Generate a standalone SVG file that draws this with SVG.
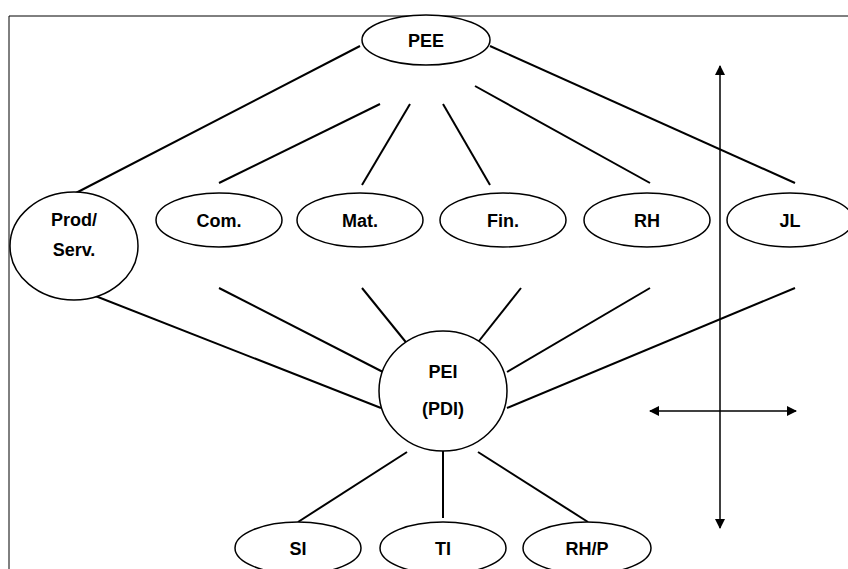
<svg xmlns="http://www.w3.org/2000/svg" width="848" height="569" viewBox="0 0 848 569">
<style>
.n{fill:#fff;stroke:#000;stroke-width:1.5}
.t{font-family:"Liberation Sans",Arial,sans-serif;font-weight:bold;font-size:18px;text-anchor:middle;fill:#000}
.c{stroke:#000;stroke-width:2;fill:none}
.a{stroke:#000;stroke-width:1.5;fill:none;marker-start:url(#ah);marker-end:url(#ah)}
</style>
<defs>
<marker id="ah" viewBox="0 0 10 10" refX="9" refY="5" markerWidth="10" markerHeight="10" markerUnits="userSpaceOnUse" orient="auto-start-reverse">
<path d="M0,0 L10,5 L0,10 z" fill="#000"/>
</marker>
</defs>
<rect width="848" height="569" fill="#fff"/>
<path d="M9,569 V16 H848" stroke="#000" stroke-width="1" fill="none"/>
<g id="connectors">
<line class="c" x1="360" y1="46" x2="72" y2="195"/>
<line class="c" x1="380" y1="104" x2="219" y2="183"/>
<line class="c" x1="410" y1="104" x2="362" y2="185"/>
<line class="c" x1="443" y1="104" x2="490" y2="185"/>
<line class="c" x1="475" y1="86" x2="650" y2="183"/>
<line class="c" x1="490" y1="46" x2="795" y2="183"/>
<line class="c" x1="75" y1="288" x2="381" y2="408"/>
<line class="c" x1="219" y1="288" x2="383" y2="372"/>
<line class="c" x1="362" y1="288" x2="409" y2="346"/>
<line class="c" x1="521" y1="288" x2="475" y2="346"/>
<line class="c" x1="650" y1="288" x2="507" y2="372"/>
<line class="c" x1="795" y1="288" x2="507" y2="408"/>
<line class="c" x1="407" y1="452" x2="298" y2="522"/>
<line class="c" x1="443" y1="428" x2="443" y2="518"/>
<line class="c" x1="478" y1="452" x2="588" y2="522"/>
<line class="a" x1="720" y1="66" x2="720" y2="528"/>
<line class="a" x1="650" y1="411" x2="796" y2="411"/>
</g>
<g id="PEE"><ellipse class="n" cx="426" cy="40" rx="64" ry="25"/><text class="t" x="426" y="47">PEE</text></g>
<g id="ProdServ"><ellipse class="n" cx="74" cy="246" rx="64" ry="54"/><text class="t" x="74" y="226">Prod/</text><text class="t" x="74" y="256">Serv.</text></g>
<g id="Com"><ellipse class="n" cx="219" cy="220" rx="63" ry="27"/><text class="t" x="219" y="227">Com.</text></g>
<g id="Mat"><ellipse class="n" cx="360" cy="220" rx="63" ry="27"/><text class="t" x="360" y="227">Mat.</text></g>
<g id="Fin"><ellipse class="n" cx="503" cy="220" rx="63" ry="27"/><text class="t" x="503" y="227">Fin.</text></g>
<g id="RH"><ellipse class="n" cx="647" cy="220" rx="63" ry="27"/><text class="t" x="647" y="227">RH</text></g>
<g id="JL"><ellipse class="n" cx="790" cy="220" rx="63" ry="27"/><text class="t" x="790" y="227">JL</text></g>
<g id="PEI"><ellipse class="n" cx="443" cy="391" rx="64" ry="60"/><text class="t" x="443" y="378">PEI</text><text class="t" x="443" y="415">(PDI)</text></g>
<g id="SI"><ellipse class="n" cx="298" cy="548" rx="63" ry="26"/><text class="t" x="298" y="555">SI</text></g>
<g id="TI"><ellipse class="n" cx="443" cy="548" rx="63" ry="26"/><text class="t" x="443" y="555">TI</text></g>
<g id="RHP"><ellipse class="n" cx="587" cy="548" rx="64" ry="26"/><text class="t" x="587" y="555">RH/P</text></g>
</svg>
